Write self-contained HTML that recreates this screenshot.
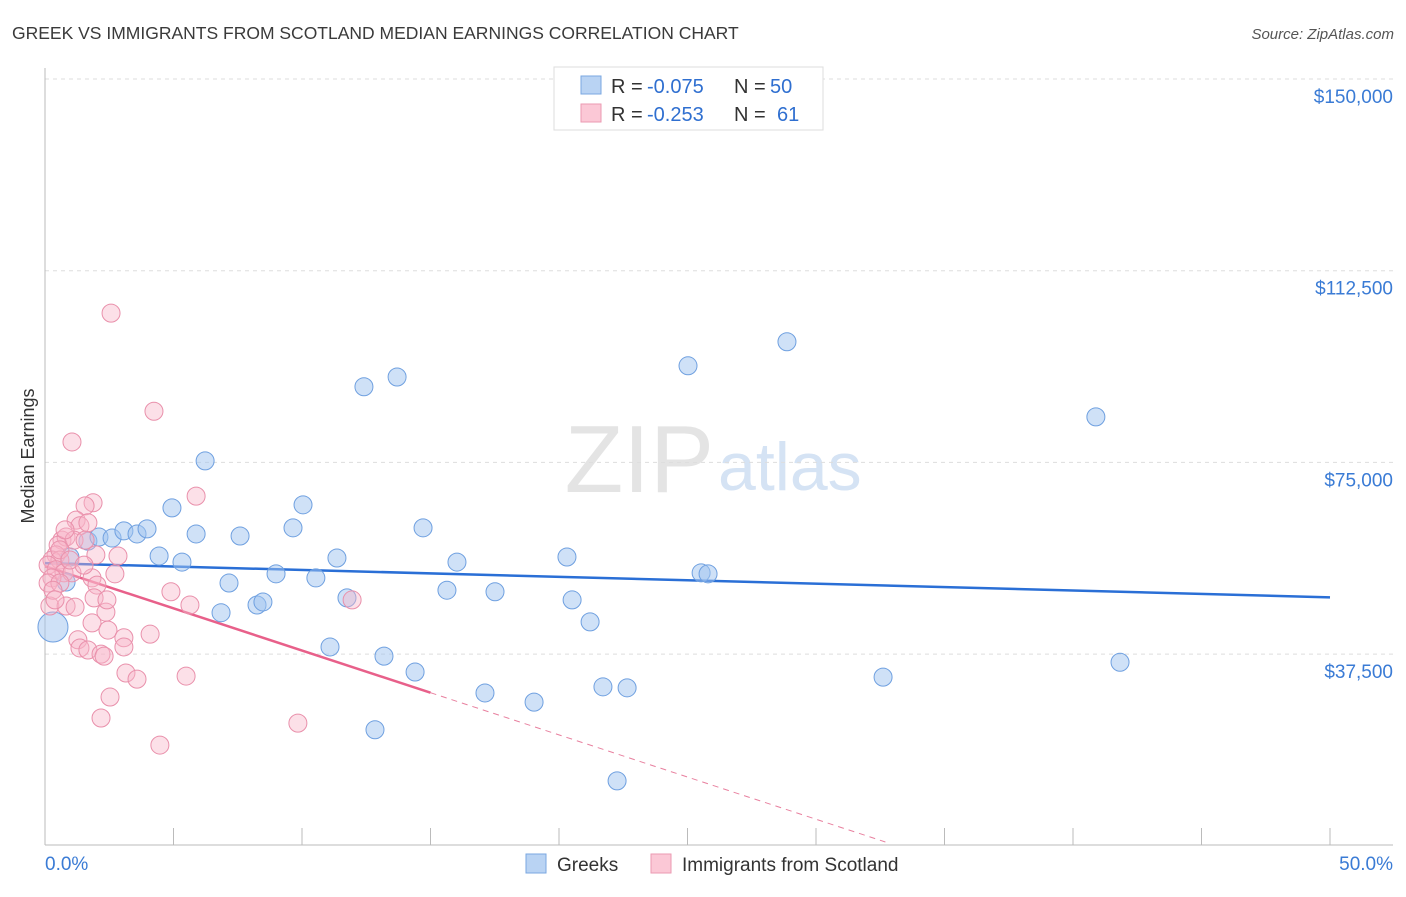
<!DOCTYPE html>
<html><head><meta charset="utf-8"><style>
body{margin:0;background:#fff;font-family:"Liberation Sans",sans-serif;}
svg text{font-family:"Liberation Sans",sans-serif;}
</style></head><body>
<svg id="chart" width="1406" height="892" xmlns="http://www.w3.org/2000/svg">
<text x="12" y="39" font-size="17.5" fill="#3a3a3a">GREEK VS IMMIGRANTS FROM SCOTLAND MEDIAN EARNINGS CORRELATION CHART</text>
<text x="1394" y="39" font-size="15" fill="#555" font-style="italic" text-anchor="end">Source: ZipAtlas.com</text>
<text x="34" y="456" font-size="18" fill="#333" text-anchor="middle" transform="rotate(-90 34 456)">Median Earnings</text>
<text x="714" y="492" font-size="96" fill="#e4e4e4" text-anchor="end" font-family="Liberation Serif">ZIP</text>
<text x="718" y="490" font-size="68" fill="#d5e3f4">atlas</text>
<g id="grid"></g><g id="axes"></g><g id="trends"></g><g id="pts"></g>
<g>
<rect x="554" y="67" width="269" height="63" fill="#fff" stroke="#ddd"/>
<rect x="581" y="76" width="20" height="18" fill="#b9d3f3" stroke="#7aa7e0"/>
<rect x="581" y="104" width="20" height="18" fill="#fbc8d6" stroke="#eb9ab2"/>
<text x="611" y="93" font-size="20" fill="#333">R =</text>
<text x="647" y="93" font-size="20" fill="#2f6fd0">-0.075</text>
<text x="734" y="93" font-size="20" fill="#333">N =</text>
<text x="770" y="93" font-size="20" fill="#2f6fd0">50</text>
<text x="611" y="121" font-size="20" fill="#333">R =</text>
<text x="647" y="121" font-size="20" fill="#2f6fd0">-0.253</text>
<text x="734" y="121" font-size="20" fill="#333">N =</text>
<text x="777" y="121" font-size="20" fill="#2f6fd0">61</text>
</g>
<g>
<rect x="526" y="854" width="20" height="19" fill="#b9d3f3" stroke="#7aa7e0"/>
<text x="557" y="871" font-size="19" fill="#333">Greeks</text>
<rect x="651" y="854" width="20" height="19" fill="#fbc8d6" stroke="#eb9ab2"/>
<text x="682" y="871" font-size="19" fill="#333">Immigrants from Scotland</text>
</g>
</svg>
<script>
const yTicks=[150000,112500,75000,37500];
const yTickLabels=["$150,000","$112,500","$75,000","$37,500"];
const xTickLabels=["0.0%","50.0%"];
const blueX=[0.31,0.82,0.97,1.67,2.10,2.61,3.07,3.58,3.97,4.44,4.94,5.33,5.88,6.23,6.85,7.16,7.59,8.25,8.48,8.99,9.65,10.04,10.54,11.09,11.36,11.75,12.41,13.19,13.70,14.40,14.71,15.64,16.03,17.12,17.51,19.03,20.31,20.51,21.21,21.71,22.26,22.65,25.02,25.53,25.80,28.87,32.61,40.89,41.83,12.84];
const blueY=[42.8,51.6,56.5,59.6,60.4,60.2,61.6,61.0,62.0,56.7,66.1,55.5,61.0,75.3,45.6,51.4,60.6,47.1,47.7,53.2,62.2,66.7,52.4,38.9,56.3,48.5,89.8,37.1,91.7,34.0,62.2,50.0,55.5,29.9,49.7,28.1,56.5,48.1,43.8,31.1,12.7,30.9,93.9,53.4,53.2,98.6,33.0,83.9,35.9,22.7];
const pinkX=[2.57,4.24,1.05,5.88,1.87,1.56,1.21,1.36,1.67,0.66,0.82,0.51,1.13,1.56,1.98,0.43,0.27,0.58,0.12,0.43,0.74,1.05,0.27,0.12,0.58,1.83,2.02,2.72,2.84,0.19,0.82,1.17,1.91,2.37,2.41,1.83,2.45,3.07,4.09,1.28,1.36,1.67,2.18,3.07,4.90,5.64,3.15,3.58,5.49,2.30,2.53,2.18,4.47,9.84,11.95,0.31,0.58,0.97,0.78,1.52,0.39];
const pinkY=[104.2,85.0,79.0,68.4,67.1,66.5,63.7,62.6,63.2,59.8,60.4,58.8,59.8,59.8,56.9,56.9,55.9,55.9,54.9,54.0,53.4,53.4,52.4,51.4,51.4,52.4,51.0,53.2,56.7,46.9,46.9,46.7,48.5,45.7,48.1,43.6,42.2,40.7,41.4,40.3,38.7,38.3,37.5,38.9,49.7,47.1,33.8,32.6,33.2,37.1,29.1,25.0,19.7,24.0,48.1,50.0,57.9,55.9,61.8,54.9,48.1];
const blueTrend=[55.3,48.6];
const pinkTrend=[54.7,-1.65];
const pinkSolidEnd=15, pinkDashEnd=32.7;

const NS="http://www.w3.org/2000/svg";
const X=p=>45+p*25.7;
const Y=v=>79+(150-v)/37.5*191.7;
function mk(tag,attrs,parent){const e=document.createElementNS(NS,tag);for(const k in attrs)e.setAttribute(k,attrs[k]);parent.appendChild(e);return e;}
const grid=document.getElementById('grid'),axes=document.getElementById('axes'),tr=document.getElementById('trends'),pts=document.getElementById('pts');
yTicks.forEach((t,i)=>{const y=Y(t/1000);
 const l=mk('line',{x1:45,x2:1393,y1:y,y2:y,stroke:'#ddd','stroke-dasharray':'4 4'},grid);
 
 
 const tx=mk('text',{x:1393,y:y+24,'font-size':19,fill:'#3a7bd5','text-anchor':'end'},grid);tx.textContent=yTickLabels[i];
 
 
});
const ax=mk('line',{x1:45,x2:1393,y1:845,y2:845,stroke:'#bbb'},axes);


const ay=mk('line',{x1:45,x2:45,y1:68,y2:845,stroke:'#bbb'},axes);


for(let i=0;i<=10;i++){const x=X(i*5);const t=mk('line',{x1:x,x2:x,y1:828,y2:845,stroke:'#bbb'},axes);
 
 }
const xl0=mk('text',{x:45,y:870,'font-size':19,fill:'#3a7bd5'},axes);xl0.textContent=xTickLabels[0];


const xl1=mk('text',{x:1393,y:870,'font-size':19,fill:'#3a7bd5','text-anchor':'end'},axes);xl1.textContent=xTickLabels[1];


blueX.forEach((x,i)=>{const c=mk('circle',{cx:X(x),cy:Y(blueY[i]),r:i==0?15:9,fill:'rgba(160,196,240,0.5)',stroke:'#6fa0e0','stroke-width':1},pts);
 
 });
pinkX.forEach((x,i)=>{const c=mk('circle',{cx:X(x),cy:Y(pinkY[i]),r:9,fill:'rgba(248,180,200,0.42)',stroke:'#e990ab','stroke-width':1},pts);
 
 });
const bl=mk('line',{x1:X(0),y1:Y(blueTrend[0]),x2:X(50),y2:Y(blueTrend[1]),stroke:'#2a6fd6','stroke-width':2.5},tr);


const pv=x=>pinkTrend[0]+pinkTrend[1]*x;
const pl=mk('line',{x1:X(0),y1:Y(pv(0)),x2:X(pinkSolidEnd),y2:Y(pv(pinkSolidEnd)),stroke:'#e8608a','stroke-width':2.5},tr);


const pd=mk('line',{x1:X(pinkSolidEnd),y1:Y(pv(pinkSolidEnd)),x2:X(pinkDashEnd),y2:Y(pv(pinkDashEnd)),stroke:'#e8809f','stroke-width':1,'stroke-dasharray':'6 5'},tr);


</script>
</body></html>
